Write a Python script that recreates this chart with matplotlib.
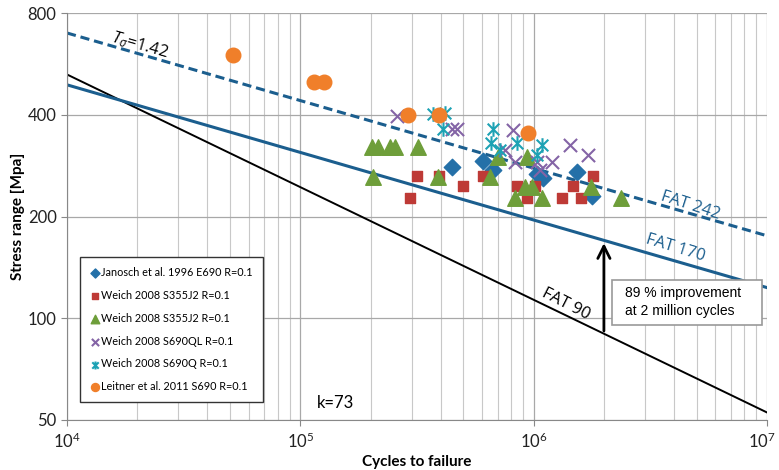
import numpy as np
import matplotlib
matplotlib.use('Agg')
import matplotlib.pyplot as plt
from matplotlib.patches import Rectangle
from matplotlib.path import Path
from matplotlib.transforms import ScaledTranslation
from matplotlib.ticker import FixedLocator, LogLocator, NullFormatter, NullLocator

plt.rcParams['font.family'] = ['Lato', 'DejaVu Sans']
plt.rcParams['mathtext.fontset'] = 'custom'
plt.rcParams['mathtext.rm'] = 'Lato'
plt.rcParams['mathtext.it'] = 'Open Sans:italic'

# data (cycles, stress range MPa)
janosch_n = [4.47e5, 6.07e5, 6.69e5, 1.03e6, 1.10e6, 1.53e6, 1.78e6]
janosch_s = [280, 292, 275, 267, 260, 271, 230]

weich_sq_n = [2.95e5, 3.16e5, 3.93e5, 4.98e5, 6.07e5, 8.48e5, 9.36e5, 1.01e6,
              1.32e6, 1.47e6, 1.60e6, 1.80e6]
weich_sq_s = [227, 264, 264, 246, 264, 246, 227, 246, 227, 246, 227, 264]

weich_tri_n = [2.03e5, 2.15e5, 2.42e5, 2.55e5, 3.19e5, 2.05e5, 3.89e5, 6.50e5,
               7.03e5, 9.36e5, 8.32e5, 9.18e5, 9.84e5, 1.09e6, 1.76e6, 2.37e6]
weich_tri_s = [321, 321, 321, 321, 321, 262, 262, 262,
               300, 300, 227, 245, 245, 227, 245, 227]

weich_ql_n = [2.60e5, 4.47e5, 4.69e5, 8.15e5, 7.54e5, 8.32e5, 1.03e6, 1.20e6,
              1.43e6, 1.71e6, 1.06e6]
weich_ql_s = [397, 363, 363, 361, 315, 290, 290, 290, 326, 304, 275]

weich_q_n = [3.70e5, 4.17e5, 4.09e5, 6.69e5, 6.56e5, 7.17e5, 8.48e5, 1.09e6, 1.03e6]
weich_q_s = [402, 404, 363, 363, 330, 315, 330, 326, 304]

leitner_n = [5.14e4, 1.145e5, 1.263e5, 2.89e5, 3.93e5, 9.46e5]
leitner_s = [601, 500, 500, 400, 400, 353]

x_ticks = [1e4, 1e5, 1e6, 1e7]
x_labels = [r'$10^4$', r'$10^5$', r'$10^6$', r'$10^7$']
y_ticks = [50, 100, 200, 400, 800]
y_labels = ['50', '100', '200', '400', '800']

# design curves
n_line = np.array([1e4, 1e7])
fat90 = 90 * (2e6 / n_line) ** (1 / 3)
fat170 = 170 * (2e6 / n_line) ** (1 / 5)
fat242 = 242 * (2e6 / n_line) ** (1 / 5)

# star marker like excel: vertical bar plus an x
star = Path([(0, -1), (0, 1), (-0.8, -0.8), (0.8, 0.8), (-0.8, 0.8), (0.8, -0.8)],
            [Path.MOVETO, Path.LINETO] * 3)

fig = plt.figure(figsize=(7.79, 4.70), dpi=100)
ax = fig.add_axes([0.086, 0.1064, 0.8986, 0.8659])
ax.set_xscale('log')
ax.set_yscale('log')
ax.set_xlim(1e4, 1e7)
ax.set_ylim(50, 800)

line_blue = '#1B5E8E'
ax.plot(n_line, fat90, color='black', lw=1.4, zorder=2)
ax.plot(n_line, fat170, color=line_blue, lw=2.2, zorder=2)
ax.plot(n_line, fat242, color=line_blue, lw=2.2, ls=(0, (3, 1.6)), zorder=2)

ax.scatter(janosch_n, janosch_s, marker='D', s=70, color='#2470A8', zorder=3,
           label='Janosch et al. 1996 E690 R=0.1')
ax.scatter(weich_sq_n, weich_sq_s, marker='s', s=62, color='#BE3A36', zorder=3,
           label='Weich 2008 S355J2 R=0.1')
ax.scatter(weich_tri_n, weich_tri_s, marker='^', s=125, color='#6E9E3A', zorder=3,
           label='Weich 2008 S355J2 R=0.1')
ax.scatter(weich_ql_n, weich_ql_s, marker='x', s=90, color='#8464A6', lw=1.5, zorder=3,
           label='Weich 2008 S690QL R=0.1')
ax.scatter(weich_q_n, weich_q_s, marker=star, s=110, color='#1DA2B4', lw=1.5, zorder=3,
           label='Weich 2008 S690Q R=0.1')
ax.scatter(leitner_n, leitner_s, marker='o', s=110, color='#F07F2A', zorder=4,
           label='Leitner et al. 2011 S690 R=0.1')

# grid and ticks
ax.set_xticks(x_ticks, labels=x_labels)
ax.xaxis.set_minor_locator(LogLocator(base=10, subs=np.arange(2, 10), numticks=10))
ax.xaxis.set_minor_formatter(NullFormatter())
ax.set_yticks(y_ticks, labels=y_labels)
ax.yaxis.set_minor_locator(NullLocator())
ax.grid(True, which='major', color='#A8A8A8', lw=0.9, zorder=0)
ax.grid(True, which='minor', axis='x', color='#C8C8C8', lw=0.8, zorder=0)
ax.set_axisbelow(True)
ax.tick_params(axis='both', which='major', labelsize=12, color='#888888', length=4,
               labelcolor='#222222')
ax.tick_params(axis='x', which='minor', length=0)
ax.tick_params(axis='x', pad=4)
for sp in ['top', 'right']:
    ax.spines[sp].set_visible(False)
for sp in ['left', 'bottom']:
    ax.spines[sp].set_color('#888888')

# nudge last x label so it stays inside the figure
last = ax.xaxis.get_major_ticks()[-1].label1
last.set_transform(last.get_transform() + ScaledTranslation(-5 / 100, 0, fig.dpi_scale_trans))

ax.set_xlabel('Cycles to failure', fontsize=11, weight='bold', labelpad=3)
ax.set_ylabel('Stress range [Mpa]', fontsize=11, weight='bold', labelpad=2)

# annotations
ax.text(2.05e4, 644, r'$T_\sigma$=1.42', fontsize=12, rotation=-16,
        ha='center', va='center', family='Open Sans')
ax.text(4.68e6, 216, 'FAT 242', fontsize=12, rotation=-18, color=line_blue,
        ha='center', va='center', family='Open Sans')
ax.text(4.04e6, 161, 'FAT 170', fontsize=12, rotation=-17, color=line_blue,
        ha='center', va='center', family='Open Sans')
ax.text(1.38e6, 110, 'FAT 90', fontsize=12, rotation=-27, color='black',
        ha='center', va='center', family='Open Sans')
ax.text(1.42e5, 56, 'k=73', fontsize=12, ha='center', va='center')
ax.annotate('', xy=(2e6, 170), xytext=(2e6, 90),
            arrowprops=dict(arrowstyle='->', lw=2, color='black', mutation_scale=22))
ax.add_patch(Rectangle((0.779, 0.233), 0.214, 0.111, transform=ax.transAxes,
                       fc='white', ec='#999999', lw=1.2, zorder=5))
ax.text(0.797, 0.290, '89 % improvement\nat 2 million cycles', fontsize=10,
        transform=ax.transAxes, ha='left', va='center', family='Liberation Sans',
        linespacing=1.3, zorder=6)

leg = ax.legend(loc='lower left', bbox_to_anchor=(0.019, 0.044), fontsize=7.8,
                labelspacing=1.1, handletextpad=0.05, handlelength=1.0,
                markerscale=0.55, fancybox=False, framealpha=1, borderpad=0.9,
                borderaxespad=0)
leg.get_frame().set_edgecolor('#333333')
leg.get_frame().set_linewidth(1.0)
leg.set_zorder(6)

fig.savefig('out.png', dpi=100)
